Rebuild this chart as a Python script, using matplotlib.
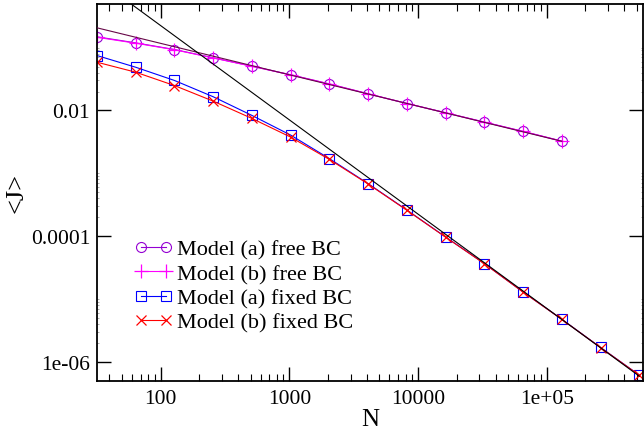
import matplotlib
matplotlib.use("Agg")
import matplotlib.pyplot as plt
from matplotlib.ticker import FixedLocator, FixedFormatter, NullFormatter

plt.rcParams['font.family'] = ['Liberation Serif', 'DejaVu Serif']

# ---- data ----
N_free = [32, 64, 128, 256, 512, 1024, 2048, 4096, 8192, 16384, 32768, 65536, 131072]
J_free_a = [0.1486, 0.119, 0.0933, 0.0689, 0.0506, 0.037, 0.0264, 0.0184, 0.0129,
            0.00919, 0.00652, 0.00464, 0.00325]
J_free_b = [0.146, 0.1175, 0.0925, 0.0685, 0.0504, 0.0369, 0.0264, 0.0184, 0.0129,
            0.00919, 0.00652, 0.00464, 0.00325]

N_fixed = [32, 64, 128, 256, 512, 1024, 2048, 4096, 8192, 16384, 32768, 65536,
           131072, 262144, 524288]
J_fixed_a = [0.0748, 0.0487, 0.0300, 0.01652, 0.00833, 0.00405, 0.00171, 6.84e-4,
             2.60e-4, 9.68e-5, 3.66e-5, 1.29e-5, 4.75e-6, 1.69e-6, 6.12e-7]
J_fixed_b = [0.0586, 0.0406, 0.0249, 0.01406, 0.00746, 0.00376, 0.00166, 6.75e-4,
             2.58e-4, 9.62e-5, 3.64e-5, 1.285e-5, 4.73e-6, 1.685e-6, 6.10e-7]

# power-law guide lines (end points)
fit_free_N = [32, 131072]
fit_free_J = [0.2066, 0.00323]
fit_fixed_N = [32, 524288]
fit_fixed_J = [1.2374, 5.90e-7]

labels = ["Model (a) free BC", "Model (b) free BC", "Model (a) fixed BC", "Model (b) fixed BC"]

x_ticks = [100, 1000, 10000, 100000]
x_ticklabels = ["100", "1000", "10000", "1e+05"]
y_ticks = [1e-6, 1e-4, 1e-2]
y_ticklabels = ["1e-06", "0.0001", "0.01"]

# ---- figure ----
W, H = 644, 435
fig = plt.figure(figsize=(W / 100, H / 100), dpi=100)
ax = fig.add_axes([97 / W, 1 - 381.7 / H, 546 / W, 377 / H])
ax.set_xscale('log')
ax.set_yscale('log')
ax.set_xlim(32, 5.6e5)
ax.set_ylim(5e-7, 0.5)

lw = 0.8
ax.plot(N_free, J_free_a, '-', color='#9400d3', marker='o', ms=7.2, mfc='none',
        mec='#9400d3', mew=0.8, lw=lw, label=labels[0])
ax.plot(N_free, J_free_b, '-', color='#ff00ff', marker='+', ms=10, mec='#ff00ff',
        mew=0.9, lw=lw, label=labels[1])
ax.plot(N_fixed, J_fixed_a, '-', color='#0000ff', marker='s', ms=6.5, mfc='none',
        mec='#0000ff', mew=0.8, lw=lw, label=labels[2])
ax.plot(N_fixed, J_fixed_b, '-', color='#ff0000', marker='x', ms=7.5, mec='#ff0000',
        mew=0.9, lw=lw, label=labels[3])

ax.plot(fit_free_N, fit_free_J, '-', color='#670748', lw=0.8, zorder=5)
ax.plot(fit_fixed_N, fit_fixed_J, '-', color='black', lw=0.8, zorder=5)

# ticks
ax.xaxis.set_major_locator(FixedLocator(x_ticks))
ax.xaxis.set_major_formatter(FixedFormatter(x_ticklabels))
xminor = [k * 10 ** e for e in range(1, 6) for k in range(2, 10)]
ax.xaxis.set_minor_locator(FixedLocator(xminor))
ax.xaxis.set_minor_formatter(NullFormatter())

ax.yaxis.set_major_locator(FixedLocator(y_ticks))
ax.yaxis.set_major_formatter(FixedFormatter(y_ticklabels))
yminor = [k * v for v in y_ticks for k in range(2, 11)]
ax.yaxis.set_minor_locator(FixedLocator(yminor))
ax.yaxis.set_minor_formatter(NullFormatter())

ax.tick_params(which='both', direction='in', top=True, right=True, labelsize=15.5)
ax.tick_params(axis='x', which='major', length=10, width=1, pad=6)
ax.tick_params(axis='x', which='minor', length=5, width=0.8)
ax.tick_params(axis='y', which='major', length=10, width=1, pad=5)
ax.tick_params(axis='y', which='minor', length=1.5, width=0.5, color='#888888')

for s in ax.spines.values():
    s.set_linewidth(1.3)

ax.set_xlabel("N", fontsize=18, labelpad=0)
ax.set_ylabel("<J>", fontsize=19, labelpad=2)

leg = ax.legend(loc='upper left', bbox_to_anchor=(0.0683, 0.375), frameon=False,
                fontsize=16, numpoints=2, handlelength=1.726, handletextpad=0.18,
                labelspacing=0.171, borderpad=0, borderaxespad=0)

fig.savefig("out.png", dpi=100)
